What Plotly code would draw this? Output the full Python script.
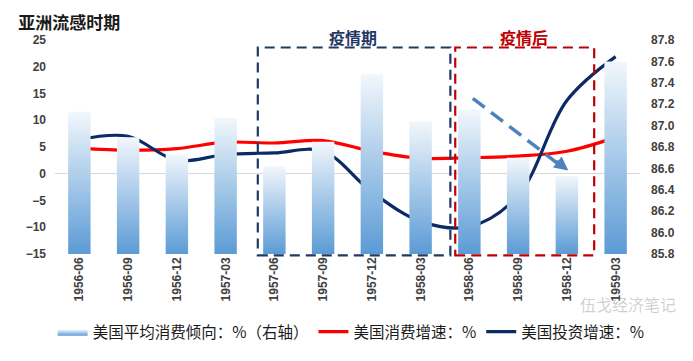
import plotly.graph_objects as go

categories = ["1956-06", "1956-09", "1956-12", "1957-03", "1957-06", "1957-09",
              "1957-12", "1958-03", "1958-06", "1958-09", "1958-12", "1959-03"]
propensity = [87.13, 86.89, 86.73, 87.07, 86.62, 86.85, 87.48, 87.04, 87.15, 86.70, 86.53, 87.60]
consumption = [4.8, 4.4, 4.7, 5.9, 5.75, 6.2, 4.2, 2.9, 3.0, 3.3, 4.2, 6.8]
investment = [6.4, 7.0, 2.5, 3.6, 3.9, 4.2, -3.4, -8.9, -9.9, -4.1, 13.7, 21.9]

left_range = [-15, 25]
right_range = [85.8, 87.8]
half_w = 0.23

fig = go.Figure()
xs = list(range(len(categories)))

for i, v in enumerate(propensity):
    fig.add_trace(go.Scatter(
        x=[i - half_w, i + half_w, i + half_w, i - half_w, i - half_w],
        y=[right_range[0], right_range[0], v, v, right_range[0]],
        yaxis="y2", mode="lines", fill="toself", line=dict(width=0),
        fillgradient=dict(type="vertical",
                          colorscale=[[0, "#5b9bd5"], [1, "#f2f7fc"]]),
        name="美国平均消费倾向：%（右轴）", legendgroup="bars",
        showlegend=(i == 0), hoverinfo="skip"))

fig.add_trace(go.Scatter(x=xs, y=consumption, mode="lines", name="美国消费增速：%",
                         line=dict(color="#ff0000", width=3.2, shape="spline", smoothing=1)))
fig.add_trace(go.Scatter(x=xs, y=investment, mode="lines", name="美国投资增速：%",
                         line=dict(color="#0c2a66", width=3.2, shape="spline", smoothing=1)))

tickfont = dict(family="Liberation Sans, Arial", size=12, color="#404040", weight="bold")

shapes = [
    dict(type="rect", xref="x", yref="paper", x0=3.66, x1=7.61, y0=-0.006, y1=0.965,
         line=dict(color="#1f3864", width=2.2, dash="10px,6px"), fillcolor="rgba(0,0,0,0)"),
    dict(type="rect", xref="x", yref="paper", x0=7.71, x1=10.56, y0=-0.006, y1=0.965,
         line=dict(color="#c00000", width=2.2, dash="10px,6px"), fillcolor="rgba(0,0,0,0)"),
    dict(type="line", xref="x", yref="y", x0=8.07, y0=14.1, x1=9.8, y1=2.0,
         line=dict(color="#4f81bd", width=3.5, dash="15px,8px")),
]

annotations = [
    dict(text="<b>疫情期</b>", x=5.62, y=1.016, xref="x", yref="paper", showarrow=False,
         font=dict(family="Noto Sans CJK SC", size=16, color="#1f3864"), yanchor="middle"),
    dict(text="<b>疫情后</b>", x=9.13, y=1.016, xref="x", yref="paper", showarrow=False,
         font=dict(family="Noto Sans CJK SC", size=16, color="#c00000"), yanchor="middle"),
    dict(x=10.03, y=0.6, ax=9.75, ay=2.6, xref="x", yref="y", axref="x", ayref="y",
         text="", showarrow=True, arrowhead=2, arrowsize=0.8, arrowwidth=3.5,
         arrowcolor="#4f81bd"),
    dict(text="伍戈经济笔记", x=1.065, y=-0.235, xref="paper", yref="paper", showarrow=False,
         xanchor="right", yanchor="middle",
         font=dict(family="Noto Sans CJK SC", size=16, color="rgba(120,120,120,0.35)")),
]

fig.update_layout(
    width=685, height=353,
    margin=dict(l=47, r=53, t=32, b=104),
    paper_bgcolor="white", plot_bgcolor="white",
    title=dict(text="<b>亚洲流感时期</b>", x=0.015, xref="container", xanchor="left",
               y=0.957, yref="container", yanchor="middle",
               font=dict(family="Noto Sans CJK SC", size=17, color="#1a1a1a")),
    xaxis=dict(range=[-0.5, 11.5], tickmode="array", tickvals=xs, ticktext=categories,
               tickangle=-90, tickfont=tickfont, showgrid=False, zeroline=False,
               showline=False, ticks=""),
    yaxis=dict(range=left_range, dtick=5, tick0=0, tickfont=tickfont, showgrid=False,
               zeroline=True, zerolinecolor="#d9d9d9", zerolinewidth=1, showline=False,
               ticks="", ticklabelstandoff=8),
    yaxis2=dict(range=right_range, dtick=0.2, tick0=85.8, tickformat=".1f", overlaying="y",
                side="right", tickfont=tickfont, showgrid=False, zeroline=False,
                showline=False, ticks="", ticklabelstandoff=10),
    legend=dict(orientation="h", x=-0.004, xanchor="left", y=-0.365, yanchor="middle",
                font=dict(family="Noto Sans CJK SC", size=15.5, color="#1a1a1a"),
                itemwidth=30, tracegroupgap=0, bgcolor="rgba(0,0,0,0)"),
    shapes=shapes, annotations=annotations, showlegend=True,
)

fig.write_html("out.html")
